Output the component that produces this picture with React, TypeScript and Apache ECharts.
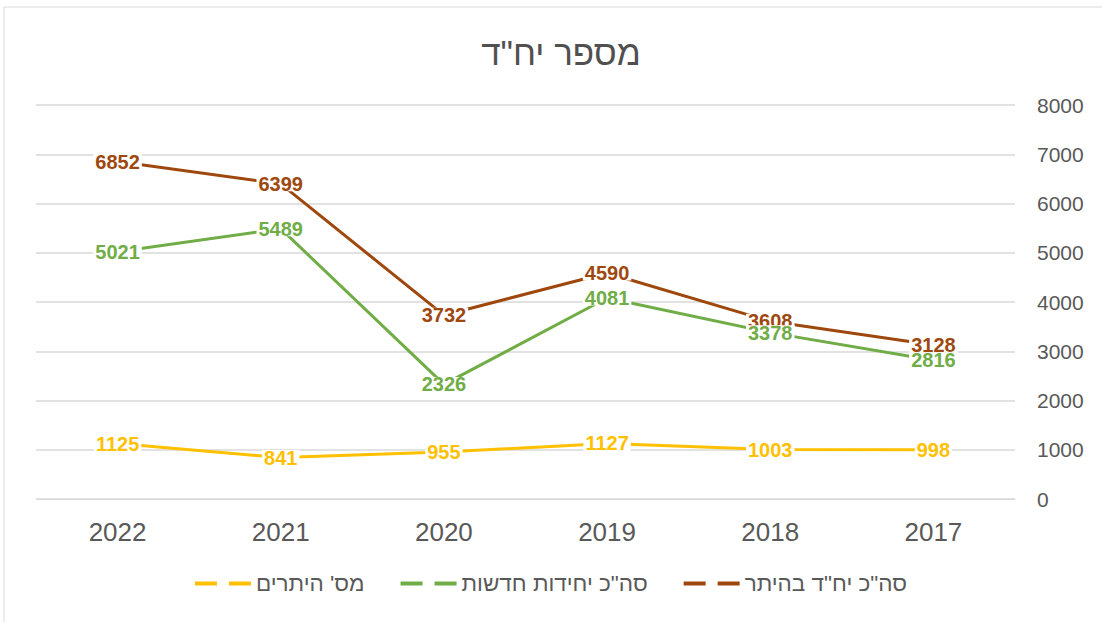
import React, { useEffect, useRef } from "react";
import * as echarts from "echarts";

const categories = ["2022", "2021", "2020", "2019", "2018", "2017"];
const permitUnits = [6852, 6399, 3732, 4590, 3608, 3128];
const newUnits = [5021, 5489, 2326, 4081, 3378, 2816];
const permits = [1125, 841, 955, 1127, 1003, 998];
const yTicks = { min: 0, max: 8000, interval: 1000 };

const NAME_PERMIT_UNITS = 'סה"כ יח"ד בהיתר';
const NAME_NEW_UNITS = 'סה"כ יחידות חדשות';
const NAME_PERMITS = "מס' היתרים";

const FONT = '"Liberation Sans", "DejaVu Sans", Arial, sans-serif';

export default function App() {
  const ref = useRef<HTMLDivElement>(null);
  useEffect(() => {
    document.body.style.margin = "0";
    if (!ref.current) return;
    const chart = echarts.init(ref.current, null, { renderer: "svg" });
    const mk = (name: string, data: number[], color: string) => ({
      name,
      type: "line",
      data,
      symbol: "circle",
      symbolSize: 0.01,
      showSymbol: true,
      lineStyle: { color, width: 3 },
      itemStyle: { color },
      label: {
        show: true,
        position: "inside",
        color,
        fontFamily: FONT,
        fontWeight: "bold",
        fontSize: 20,
        lineHeight: 15,
        backgroundColor: "#ffffff",
        padding: [0, 2],
      },
    });
    const dashIcon = "path://M0,0h22v4h-22z M34,0h22v4h-22z";
    chart.setOption({
      animation: false,
      backgroundColor: "#ffffff",
      textStyle: { fontFamily: FONT },
      title: {
        text: 'מספר יח"ד',
        left: 556,
        textAlign: "center",
        top: 30,
        textStyle: { color: "#505050", fontSize: 35, fontWeight: "normal", fontFamily: FONT },
      },
      graphic: [
        {
          type: "rect",
          shape: { x: 4, y: 7, width: 1120, height: 640 },
          style: { fill: "none", stroke: "#d9d9d9", lineWidth: 1 },
          silent: true,
          z: -10,
        },
      ],
      legend: {
        bottom: 22,
        left: "center",
        itemWidth: 56,
        itemHeight: 4,
        itemGap: 36,
        icon: dashIcon,
        textStyle: { color: "#595959", fontSize: 22.5, fontFamily: FONT },
        data: [NAME_PERMITS, NAME_NEW_UNITS, NAME_PERMIT_UNITS],
      },
      grid: { left: 36, right: 87, top: 105, bottom: 123 },
      xAxis: {
        type: "category",
        data: categories,
        boundaryGap: true,
        axisLine: { show: true, lineStyle: { color: "#d9d9d9", width: 1 } },
        axisTick: { show: false },
        axisLabel: { color: "#595959", fontSize: 26, margin: 20, fontFamily: FONT },
      },
      yAxis: {
        type: "value",
        position: "right",
        min: yTicks.min,
        max: yTicks.max,
        interval: yTicks.interval,
        axisLine: { show: false },
        axisTick: { show: false },
        splitLine: { lineStyle: { color: "#d9d9d9", width: 1.5 } },
        axisLabel: {
          color: "#595959",
          fontSize: 21,
          margin: 22,
          fontFamily: FONT,
          formatter: (v: number) => String(v),
        },
      },
      series: [
        mk(NAME_PERMIT_UNITS, permitUnits, "#9E480E"),
        mk(NAME_NEW_UNITS, newUnits, "#70AD47"),
        mk(NAME_PERMITS, permits, "#FFC000"),
      ],
    });
    return () => chart.dispose();
  }, []);
  return <div ref={ref} style={{ width: 1102, height: 622 }} />;
}
